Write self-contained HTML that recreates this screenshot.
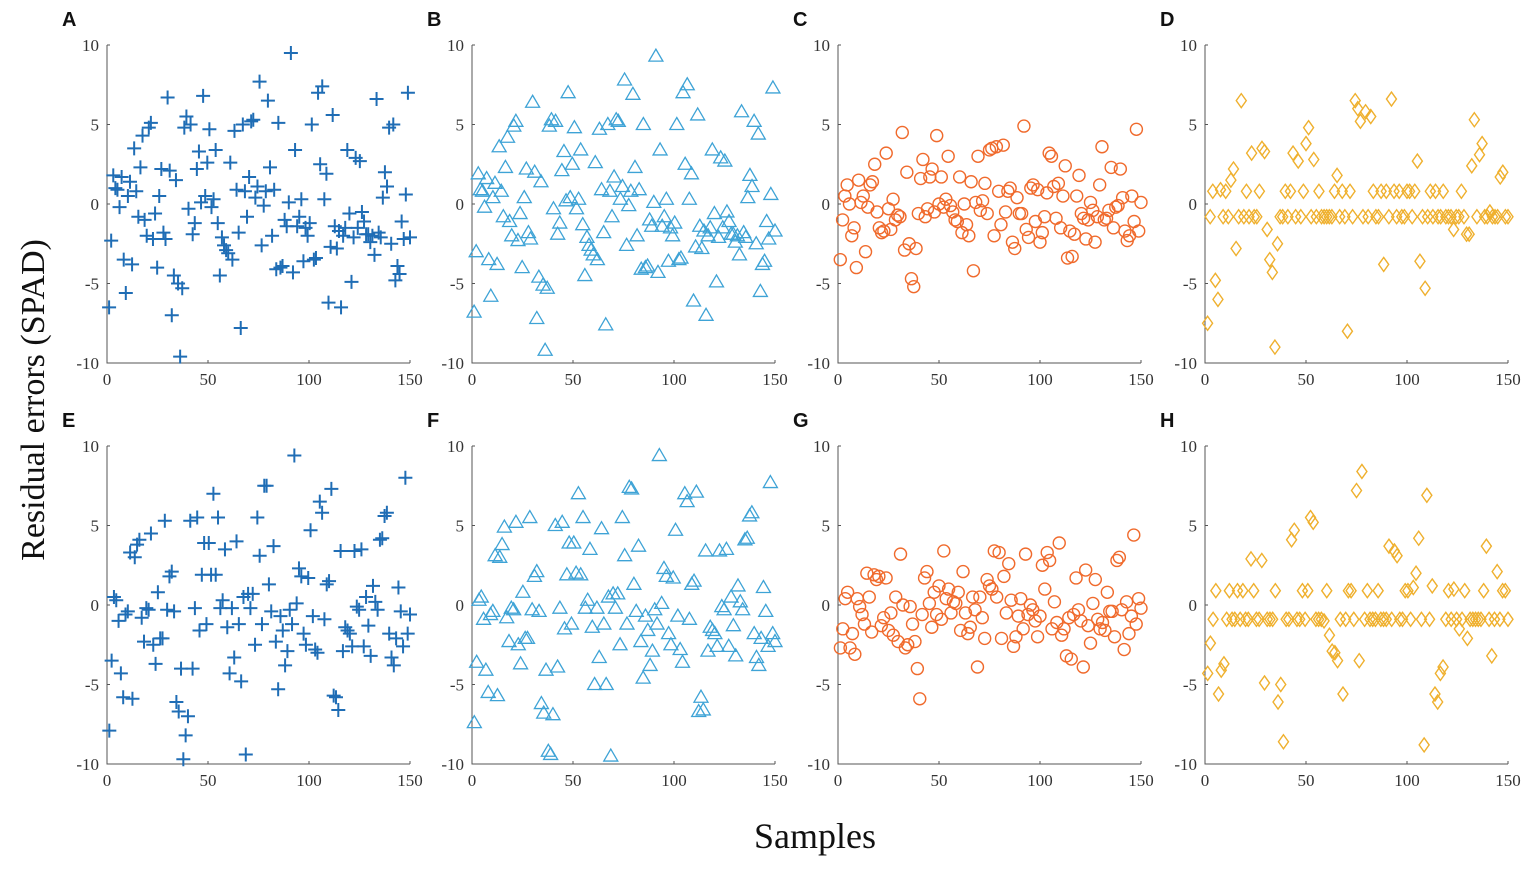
<!DOCTYPE html>
<html><head><meta charset="utf-8"><style>
html,body{margin:0;padding:0;background:#fff;}
svg{display:block;font-family:"Liberation Serif",serif;}
</style></head><body>
<svg id="chart" width="1535" height="870" viewBox="0 0 1535 870">
<text x="44" y="400" font-size="34" text-anchor="middle" transform="rotate(-90 44 400)" fill="#111">Residual errors (SPAD)</text>
<text x="815" y="848" font-size="36" text-anchor="middle" fill="#111">Samples</text>
</svg>
<script>
const xTicks=[0,50,100,150];
const yTicks=[10,5,0,-5,-10];
const panelLabels=["A","B","C","D","E","F","G","H"];
const valsA=[-6.5,-2.3,1.8,1,0.9,-0.2,1.7,-3.5,-5.6,0.5,1.4,-3.8,3.5,0.8,-0.8,2.3,4.3,-1,-2,4.8,5.1,-2.2,-0.6,-4,0.5,2.2,-1.8,-2.2,6.7,2.1,-7,-4.5,1.5,-5,-9.6,-5.3,4.8,5.5,-0.3,5,-1.9,-1.2,2.2,3.3,0.1,6.8,0.5,2.6,4.7,-0.2,0.3,3.4,-1.2,-4.5,-2.1,-2.6,-2.9,-3.1,2.6,-3.5,4.6,0.9,-1.8,-7.8,5,0.8,-0.8,1.7,5.2,5.3,0.4,1.1,7.7,-2.6,-0.1,0.8,6.5,2.3,-2,0.9,-4.1,5.1,-4,-3.9,-1,-1.4,0.1,9.5,-4.3,3.4,-1.4,-0.8,0.3,-3.6,-1.5,-2,-1.2,5,-3.5,-3.4,7,2.5,7.4,0.3,1.9,-6.2,-2.7,5.6,-1.4,-2.8,-1.7,-6.5,-2,-1.5,3.4,-0.6,-4.9,-2.1,2.9,-1.5,2.7,-0.5,-1.1,-1.9,-1.9,-2.4,-2,-3.2,6.6,-1.8,-2.1,0.4,2,1.1,4.8,-2.5,5,-4.8,-3.9,-4.4,-1.1,-2.2,0.6,7,-2.1];
const valsB=[-6.8,-3,1.9,0.9,0.8,-0.2,1.6,-3.5,-5.8,0.4,1.3,-3.8,3.6,0.8,-0.8,2.3,4.2,-1.1,-2,4.9,5.2,-2.3,-0.6,-4,0.4,2.2,-1.8,-2.2,6.4,2,-7.2,-4.6,1.4,-5.1,-9.2,-5.3,4.9,5.3,-0.3,5.2,-1.9,-1.2,2.1,3.3,0.2,7,0.4,2.5,4.8,-0.3,0.3,3.4,-1.3,-4.5,-2.1,-2.6,-2.9,-3.2,2.6,-3.5,4.7,0.9,-1.8,-7.6,5,0.8,-0.8,1.7,5.3,5.2,0.3,1.1,7.8,-2.6,-0.1,0.8,6.9,2.3,-2,0.9,-4.1,5,-4,-3.9,-1,-1.4,0.1,9.3,-4.3,3.4,-1.4,-0.8,0.3,-3.6,-1.5,-2,-1.2,5,-3.5,-3.4,7,2.5,7.5,0.3,1.9,-6.1,-2.7,5.6,-1.4,-2.8,-1.7,-7,-2,-1.5,3.4,-0.6,-4.9,-2.1,2.9,-1.5,2.7,-0.5,-1.1,-1.9,-1.9,-2.4,-2,-3.2,5.8,-1.8,-2.1,0.4,1.8,1.1,5.2,-2.5,4.4,-5.5,-3.8,-3.6,-1.1,-2.2,0.6,7.3,-1.7];
const valsC=[-3.5,-1,0.5,1.2,0,-2,-1.5,-4,1.5,0.1,0.5,-3,-0.2,1.2,1.4,2.5,-0.5,-1.5,-1.8,-1.7,3.2,-0.3,-1.6,0.3,-1,-0.7,-0.8,4.5,-2.9,2,-2.5,-4.7,-5.2,-2.8,-0.6,1.6,2.8,-0.8,-0.3,1.7,2.2,-0.5,4.3,0,1.7,-0.2,0.3,3,-0.1,-0.5,-1,-1.1,1.7,-1.8,0,-1.3,-2,1.4,-4.2,0.1,3,-0.4,0.2,1.3,-0.6,3.4,3.5,-2,3.6,0.8,-1.3,3.7,-0.5,0.8,1,-2.4,-2.8,0.4,-0.6,-0.6,4.9,-1.6,-2.1,1,1.2,-1.1,0.9,-2.4,-1.8,-0.8,0.7,3.2,3,1.1,-0.9,1.3,-1.5,0.5,2.4,-3.4,-1.7,-3.3,-1.9,0.5,1.8,-0.6,-0.9,-2.2,-1,0.1,-0.4,-2.4,-0.8,1.2,3.6,-1,-0.9,-0.4,2.3,-1.5,-0.2,-0.1,2.2,0.4,-1.7,-2.3,-2,0.5,-1.1,4.7,-1.7,0.1];
const valsD=[-7.5,-0.8,0.8,-4.8,-6,0.9,-0.8,0.8,-0.8,1.5,2.2,-2.8,-0.8,6.5,-0.8,0.8,-0.8,3.2,-0.8,-0.8,0.8,3.5,3.3,-1.6,-3.5,-4.3,-9,-2.5,-0.8,-0.8,0.8,-0.8,0.8,3.2,-0.8,2.7,-0.8,0.8,3.8,4.8,-0.8,2.8,-0.8,0.8,-0.8,-0.8,-0.8,-0.8,-0.8,0.8,1.8,-0.8,0.8,-0.8,-8,0.8,-0.8,6.5,6,5.2,-0.8,5.8,-0.8,5.5,0.8,-0.8,-0.8,0.8,-3.8,0.8,-0.8,6.6,0.8,-0.8,0.8,-0.8,-0.8,0.8,0.8,-0.8,0.8,2.7,-3.6,-0.8,-5.3,-0.8,0.8,-0.8,0.8,-0.8,-0.8,0.8,-0.8,-0.8,-0.8,-1.6,-0.8,-0.8,0.8,-0.8,-1.9,-1.9,2.4,5.3,-0.8,3.1,3.8,-0.8,-0.8,-0.5,-0.8,-0.8,-0.8,1.7,2,-0.8,-0.8];
const valsE=[-7.9,-3.5,0.5,0.3,-1,-4.3,-5.8,-0.6,-0.4,3.3,-5.9,3,3.8,4.1,-0.8,-2.3,-0.2,-0.3,4.5,-2.5,-3.7,0.8,-2.1,-2.1,5.3,-0.3,1.8,2.1,-0.4,-6.1,-6.7,-4,-9.7,-8.2,-7,5.3,-4,-0.2,5.5,-1.6,1.9,3.9,-1.2,3.9,1.9,7,1.9,5.5,-0.2,0.3,3.5,-1.4,-4.3,-0.2,-3.3,4,-1.2,-4.8,0.5,-9.4,0.7,-0.2,0.7,-2.5,5.5,3.1,-1.2,7.5,7.5,1.3,-0.4,3.7,-2.3,-5.3,-0.7,-1.6,-3.8,-2.9,-0.3,-1.2,9.4,0.1,2.3,1.8,-1.8,-2.5,1.7,4.7,-0.7,-2.8,-3,6.5,5.8,-0.9,1.3,1.5,7.3,-5.7,-5.8,-6.6,3.4,-2.9,-1.4,-1.6,-1.8,-2.6,3.4,-0.1,-0.3,3.5,-2.6,0.5,-1.3,-3.2,1.2,0.2,-0.3,4.1,4.2,5.6,5.8,-1.8,-3.3,-3.8,-2.1,1.1,-0.4,-2.6,8,-1.8,-0.6];
const valsF=[-7.4,-3.6,0.3,0.5,-0.9,-4.1,-5.5,-0.6,-0.4,3.1,-5.7,3,3.8,4.9,-0.8,-2.3,-0.2,-0.3,5.2,-2.5,-3.7,0.8,-2.1,-2.1,5.5,-0.3,1.8,2.1,-0.4,-6.2,-6.8,-4.1,-9.2,-9.4,-6.9,5,-3.9,-0.2,5.2,-1.5,1.9,3.9,-1.2,3.9,2,7,1.9,5.5,-0.2,0.3,3.5,-1.4,-5,-0.2,-3.3,4.8,-1.2,-5,0.5,-9.5,0.7,-0.2,0.7,-2.5,5.5,3.1,-1.2,7.4,7.3,1.3,-0.4,3.7,-2.3,-4.6,-0.7,-1.6,-3.8,-2.9,-0.3,-1.2,9.4,0.1,2.3,1.8,-1.8,-2.5,1.7,4.7,-0.7,-2.8,-3.6,7,6.5,-0.9,1.3,1.5,7.1,-6.7,-5.8,-6.6,3.4,-2.9,-1.4,-1.6,-1.8,-2.6,3.4,-0.1,-0.3,3.5,-2.6,0.5,-1.3,-3.2,1.2,0.2,-0.3,4.1,4.2,5.6,5.8,-1.8,-3.3,-3.8,-2.1,1.1,-0.4,-2.6,7.7,-1.8,-2.3];
const valsG=[-2.7,-1.5,0.4,0.8,-2.7,-1.8,-3.1,0.4,-0.1,-0.6,-1.2,2,0.5,-1.7,1.9,1.6,1.8,-1.3,-0.8,1.7,-1.6,-0.5,-1.9,0.5,-2.3,3.2,0,-2.7,-2.5,-0.1,-1.2,-2.3,-4,-5.9,-0.6,1.7,2.1,0.1,-1.4,0.8,-0.6,1.2,-0.9,3.4,0.4,1,-0.5,0.2,0.1,0.8,-1.6,2.1,-0.5,-1.8,-1.4,0.5,-0.3,-3.9,0.5,-0.8,-2.1,1.6,1.2,1,3.4,0.5,3.3,-2.1,1.8,-0.5,2.6,0.3,-2.6,-2,-0.7,0.4,-1.5,3.2,-0.6,0,-0.3,-1,-2,-0.7,2.5,1,3.3,2.8,-1.5,0.2,-1.1,3.9,-1.9,-1.5,-3.2,-0.8,-3.4,-0.6,1.7,-0.3,-1,-3.9,2.2,-1.3,-2.4,0.1,1.6,-0.9,-1.5,-1.1,-1.6,0.8,-0.4,-0.4,-2,2.8,3,-0.3,-2.8,0.2,-1.8,-0.7,4.4,-1.2,0.4,-0.2];
const valsH=[-4.3,-2.4,-0.9,0.9,-5.6,-4.1,-3.7,-0.9,0.9,-0.9,-0.9,0.9,-0.9,0.9,-0.9,-0.9,2.9,0.9,-0.9,-0.9,2.8,-4.9,-0.9,-0.9,-0.9,0.9,-6.1,-5,-8.6,-0.9,-0.9,4.1,4.7,-0.9,-0.9,0.9,-0.9,0.9,5.5,5.2,-0.9,-0.9,-0.9,-1,0.9,-1.9,-2.9,-3,-3.5,-0.9,-5.6,-0.9,0.9,0.9,-0.9,7.2,-3.5,8.4,-0.9,0.9,-0.9,-0.9,-0.9,0.9,-0.9,-0.9,-0.9,3.7,-0.9,3.4,3.1,-0.9,-0.9,0.9,0.9,-0.9,1.1,2,4.2,-0.9,-8.8,6.9,-0.9,1.2,-5.6,-6.1,-4.3,-3.9,-0.9,0.9,-0.9,1,-0.9,-1.5,-0.9,0.9,-2.1,-0.9,-0.9,-0.9,-0.9,-0.9,0.9,3.7,-0.9,-3.2,-0.9,2.1,-0.9,0.9,0.9,-0.9];
const allVals=[valsA,valsB,valsC,valsD,valsE,valsF,valsG,valsH];
const markers=["plus","triangle","circle","diamond","plus","triangle","circle","diamond"];
const colors=["#1f6db5","#3ea3d6","#f06a2c","#efb02e","#1f6db5","#3ea3d6","#f06a2c","#efb02e"];

const NS="http://www.w3.org/2000/svg";
const svg=document.getElementById("chart");
const colX=[107,472,838,1205], rowTop=[45,446], W=303, H=318;
function mk(tag,attrs,parent){const e=document.createElementNS(NS,tag);for(const k in attrs)e.setAttribute(k,attrs[k]);parent.appendChild(e);return e;}

allVals.forEach((vals,p)=>{
  const x0=colX[p%4], y0=rowTop[Math.floor(p/4)];
  const xs=v=>x0+v/150*W;
  const ys=v=>y0+(10-v)/20*H;
  const g=mk("g",{},svg);
  
  
  const lab=mk("text",{x:x0-45,y:y0-19,"font-family":"Liberation Sans, sans-serif","font-weight":"bold","font-size":"20",fill:"#111"},g);
  lab.textContent=panelLabels[p];
  
  
  const ax=mk("path",{d:`M${x0},${y0}V${y0+H}H${x0+W}`,stroke:"#555",fill:"none","stroke-width":"1"},g);
  
  
  xTicks.forEach(t=>{
    mk("line",{x1:xs(t),x2:xs(t),y1:y0+H,y2:y0+H-3,stroke:"#555"},g);
    const tx=mk("text",{x:xs(t),y:y0+H+22,"text-anchor":"middle","font-size":"17",fill:"#333"},g);
    tx.textContent=t;
    
    
  });
  yTicks.forEach(t=>{
    mk("line",{x1:x0,x2:x0+3,y1:ys(t),y2:ys(t),stroke:"#555"},g);
    const ty=mk("text",{x:x0-8,y:ys(t)+6,"text-anchor":"end","font-size":"17",fill:"#333"},g);
    ty.textContent=t;
    
    
  });
  const n=vals.length, c=colors[p], m=markers[p];
  vals.forEach((v,i)=>{
    const cx=xs((i+1)*150/n), cy=ys(v);
    let el;
    if(m==="plus") el=mk("path",{d:`M${cx-7},${cy}H${cx+7}M${cx},${cy-7}V${cy+7}`,stroke:c,"stroke-width":"2",fill:"none"},g);
    else if(m==="triangle") el=mk("path",{d:`M${cx},${cy-7}L${cx+7},${cy+5}L${cx-7},${cy+5}Z`,stroke:c,"stroke-width":"1.3",fill:"none"},g);
    else if(m==="circle") el=mk("circle",{cx:cx,cy:cy,r:6,stroke:c,"stroke-width":"1.4",fill:"none"},g);
    else el=mk("path",{d:`M${cx},${cy-7}L${cx+5},${cy}L${cx},${cy+7}L${cx-5},${cy}Z`,stroke:c,"stroke-width":"1.4",fill:"none"},g);
    
    
  });
});
</script>
</body></html>
